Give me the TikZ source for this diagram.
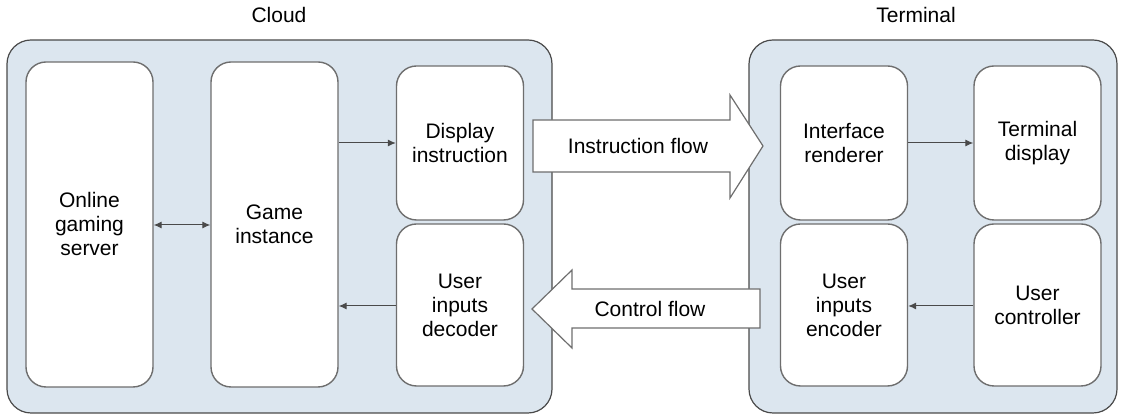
\documentclass[tikz,border=0pt]{standalone}
\usepackage{fontspec}
\setmainfont{Liberation Sans}
\usepackage{xcolor}
\usepackage{tikz}
\usetikzlibrary{arrows.meta}
\definecolor{panelblue}{HTML}{DCE6EF}
\definecolor{edgegrey}{HTML}{6E6E6E}
\definecolor{linegrey}{HTML}{4A4A4A}

\tikzset{
  panel/.style={draw=linegrey,fill=panelblue,rounded corners=12pt,line width=0.6pt},
  unit/.style={draw=edgegrey,fill=white,rounded corners=10pt,line width=0.7pt,
    minimum width=63.5pt,align=center,inner sep=0pt},
  flow/.style={draw=edgegrey,fill=white,line width=0.6pt},
  link/.style={draw=linegrey,line width=0.5pt,-{Latex[length=4pt,width=3.5pt]}}
}

\begin{document}
\begin{tikzpicture}[x=0.5pt,y=-0.5pt,font=\fontsize{10.5}{12}\selectfont]
  \useasboundingbox (0,0) rectangle (1121,415);

  % containers
  \draw[panel] (7,40) rectangle (552,413);
  \draw[panel] (749,40) rectangle (1117,413);
  \node (cloudlbl) at (279,15) {Cloud};
  \node (termlbl) at (916,15) {Terminal};

  % cloud side
  \node[unit,minimum height=162.5pt] (server) at (89.5,224.5) {Online\\gaming\\server};
  \node[unit,minimum height=162.5pt] (game) at (274.5,224.5) {Game\\instance};
  \node[unit,minimum height=77pt] (dispins) at (460,143) {Display\\instruction};
  \node[unit,minimum height=81pt] (decoder) at (460,305) {User\\inputs\\decoder};

  % terminal side
  \node[unit,minimum height=77pt] (renderer) at (844,143) {Interface\\renderer};
  \node[unit,minimum height=77pt] (tdisplay) at (1037.5,143) {Terminal\\display};
  \node[unit,minimum height=81pt] (encoder) at (844,305) {User\\inputs\\encoder};
  \node[unit,minimum height=81pt] (controller) at (1037.5,305) {User\\controller};

  % big flow arrows
  \draw[flow] (533,120) -- (730,120) -- (730,95) -- (763,146) -- (730,198)
    -- (730,172) -- (533,172) -- cycle;
  \node (insflow) at (638,146) {Instruction flow};
  \draw[flow] (760,289) -- (572,289) -- (572,270) -- (532,309) -- (572,348)
    -- (572,328) -- (760,328) -- cycle;
  \node (ctrlflow) at (650,309) {Control flow};

  % links
  \draw[link,{Latex[length=4pt,width=3.5pt]}-{Latex[length=4pt,width=3.5pt]}]
    (server.east |- 0,225) -- (game.west |- 0,225);
  \draw[link] (game.east |- 0,143) -- (dispins.west);
  \draw[link] (decoder.west |- 0,306) -- (game.east |- 0,306);
  \draw[link] (renderer.east) -- (tdisplay.west);
  \draw[link] (controller.west |- 0,306) -- (encoder.east |- 0,306);
\end{tikzpicture}
\end{document}
